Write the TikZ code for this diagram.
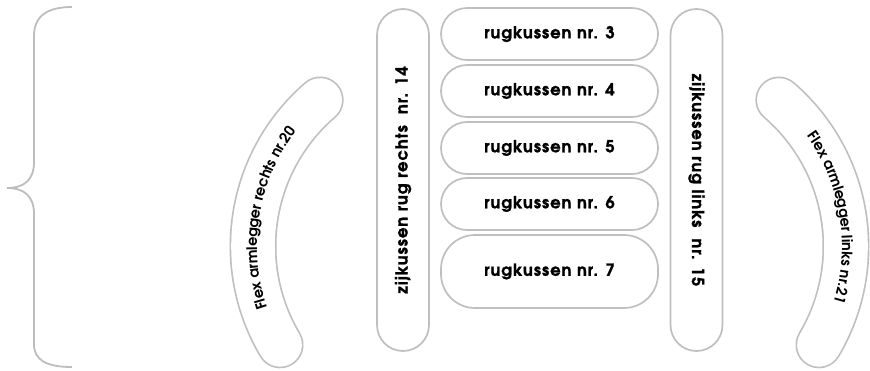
\documentclass[tikz,border=0pt]{standalone}
\usepackage{fontspec}
\setmainfont{TeX Gyre Adventor}
\newfontfamily\boxfont[LetterSpace=5.5, FakeBold=1.2]{texgyreadventor-bold.otf}
\usetikzlibrary{decorations.text}
\definecolor{lgray}{HTML}{BFBFBF}
\definecolor{bgray}{HTML}{BDBDBD}
\tikzset{
  cushion/.style={draw=lgray, line width=1.7pt, fill=white, font=\boxfont\fontsize{16.5}{19}\selectfont, inner sep=0pt},
  rug/.style={cushion, minimum width=217pt, minimum height=52pt, rounded corners=26pt},
  side/.style={cushion, minimum width=52pt, minimum height=342pt, rounded corners=26pt},
  bandout/.style={lgray, line width=47pt, line cap=round},
  bandin/.style={white, line width=43.6pt, line cap=round},
  bracestyle/.style={bgray, line width=1.8pt},
  flextext/.style={decorate, decoration={text along path, text align=center, raise=-4pt, text={#1}}}
}
\begin{document}
\begin{tikzpicture}[x=1pt,y=1pt]
\useasboundingbox (0,0) rectangle (870,-370);
% brace
\draw[bracestyle] (72,-7) .. controls (46,-7) and (34,-17) .. (34,-36) -- (34,-162)
  .. controls (34,-180) and (24,-188) .. (7,-188)
  .. controls (24,-188) and (34,-196) .. (34,-214) -- (34,-344)
  .. controls (34,-360) and (46,-367) .. (72,-367);
% left flex armlegger
\draw[bandout] (446,-246.3) ++(210.7:193) arc[start angle=210.7, end angle=130.7, radius=193];
\draw[bandin] (446,-246.3) ++(210.7:193) arc[start angle=210.7, end angle=130.7, radius=193];
% right flex armlegger
\draw[bandout] (653,-246.3) ++(49.3:193) arc[start angle=49.3, end angle=-30.7, radius=193];
\draw[bandin] (653,-246.3) ++(49.3:193) arc[start angle=49.3, end angle=-30.7, radius=193];
{\fontsize{14.5}{16}\selectfont\bfseries
\path[flextext={Flex armlegger rechts nr.20}] (446,-246.3) ++(210.7:193) arc[start angle=210.7, end angle=130.7, radius=193];
\path[flextext={Flex armlegger links nr.21}] (653,-246.3) ++(49.3:193) arc[start angle=49.3, end angle=-30.7, radius=193];
}
% side cushions
\node[side] (z14) at (403,-180) {\rotatebox{90}{zijkussen rug rechts \ nr. 14}};
\node[side] (z15) at (696.5,-180) {\rotatebox{-90}{zijkussen rug links \ nr. 15}};
% back cushions
\node[rug] (r3) at (549.5,-34) {rugkussen nr. 3};
\node[rug] (r4) at (549.5,-91) {rugkussen nr. 4};
\node[rug] (r5) at (549.5,-148) {rugkussen nr. 5};
\node[rug] (r6) at (549.5,-204) {rugkussen nr. 6};
\node[rug, minimum height=73pt, rounded corners=34pt] (r7) at (549.5,-271.5) {rugkussen nr. 7};
\end{tikzpicture}
\end{document}
